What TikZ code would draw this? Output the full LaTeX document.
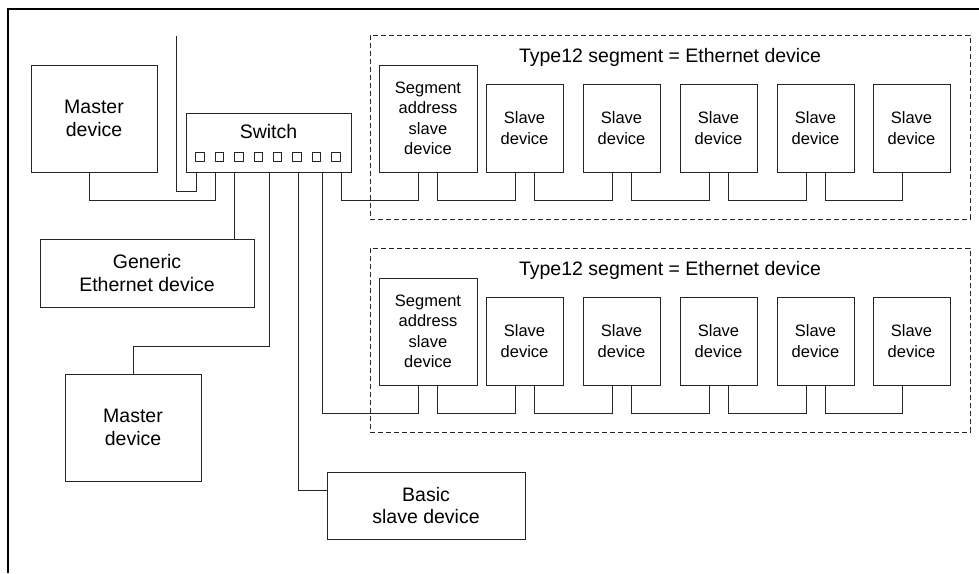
\documentclass[tikz,border=0pt]{standalone}
\usepackage{fontspec}
\setmainfont{Liberation Sans}
\begin{document}
\begin{tikzpicture}[x=1pt,y=-1pt,
  wire/.style={draw=black!85,line width=0.9pt},
  box/.style={draw=black!85,line width=0.9pt,fill=white,inner sep=0pt,outer sep=0pt,
    anchor=north west,align=center,font=\fontsize{19.5}{22.7}\selectfont},
  segbox/.style={box,minimum width=98pt,minimum height=107pt,font=\fontsize{16.5}{20.5}\selectfont},
  slavebox/.style={box,minimum width=77pt,minimum height=88pt,font=\fontsize{16.5}{20.5}\selectfont},
  groupbox/.style={draw=black!85,line width=0.9pt,dash pattern=on 5pt off 3pt,inner sep=0pt,
    outer sep=0pt,anchor=north west},
  title/.style={font=\fontsize{19.5}{22.7}\selectfont,inner sep=0pt},
  port/.style={draw=black!85,line width=0.9pt,minimum size=8.5pt,inner sep=0pt}]
\useasboundingbox (0,0) rectangle (979,573);
\fill[white] (0,0) rectangle (979,573);

% outer frame (top and left edges)
\draw[line width=2pt,black] (8,573) -- (8,9) -- (979,9);

% segment groups
\node[groupbox,minimum width=600pt,minimum height=184pt] (g1) at (370,35) {};
\node[groupbox,minimum width=600pt,minimum height=184pt] (g2) at (370,248) {};
\node[title] (t1) at (670,57) {Type12 segment = Ethernet device};
\node[title] (t2) at (670,270) {Type12 segment = Ethernet device};

% devices on the left
\node[box,minimum width=126pt,minimum height=107pt] (m1) at (31,65) {Master\\device};
\node[box,minimum width=165pt,minimum height=59pt,text depth=23pt] (sw) at (186,113) {Switch};
\node[box,minimum width=214pt,minimum height=68pt] (gen) at (40,239) {Generic\\Ethernet device};
\node[box,minimum width=136pt,minimum height=107pt] (m2) at (65,374) {Master\\device};
\node[box,minimum width=198pt,minimum height=67pt] (bs) at (327,472) {Basic\\slave device};

% switch ports
\foreach \i in {0,...,7}
  \node[port] (port\i) at (200+19.4*\i,157) {};

% first segment
\node[segbox] (sa1) at (379,65) {Segment\\address\\slave\\device};
\foreach \i/\x in {1/486,2/583,3/680,4/777,5/873}
  \node[slavebox] (s1\i) at (\x,84) {Slave\\device};

% second segment
\node[segbox] (sa2) at (379,278) {Segment\\address\\slave\\device};
\foreach \i/\x in {1/486,2/583,3/680,4/777,5/873}
  \node[slavebox] (s2\i) at (\x,297) {Slave\\device};

% cables from the switch
\coordinate (uplink) at (176,36);
\draw[wire] ([xshift=10pt]sw.south west) -- ++(0,19) -| (uplink);
\draw[wire] ([xshift=29pt]sw.south west) -- ++(0,28) -| ([xshift=-5pt]m1.south);
\draw[wire] ([xshift=48pt]sw.south west) -- ([xshift=48pt]sw.south west |- gen.north);
\draw[wire] ([xshift=83pt]sw.south west) -- ++(0,174) -| (m2.north);
\draw[wire] ([xshift=112pt]sw.south west) |- ([yshift=15.5pt]bs.west);
\draw[wire] ([xshift=136pt]sw.south west) -- ++(0,241) -| ([xshift=-9.5pt]sa2.south);
\draw[wire] ([xshift=155pt]sw.south west) -- ++(0,28) -| ([xshift=-9.5pt]sa1.south);

% daisy chains inside the segments
\foreach \r in {1,2}{
  \draw[wire] ([xshift=9.5pt]sa\r.south) -- ++(0,28) -| ([xshift=-9.5pt]s\r1.south);
  \foreach \a/\b in {1/2,2/3,3/4,4/5}
    \draw[wire] ([xshift=9.5pt]s\r\a.south) -- ++(0,28) -| ([xshift=-9.5pt]s\r\b.south);
}
\end{tikzpicture}
\end{document}
